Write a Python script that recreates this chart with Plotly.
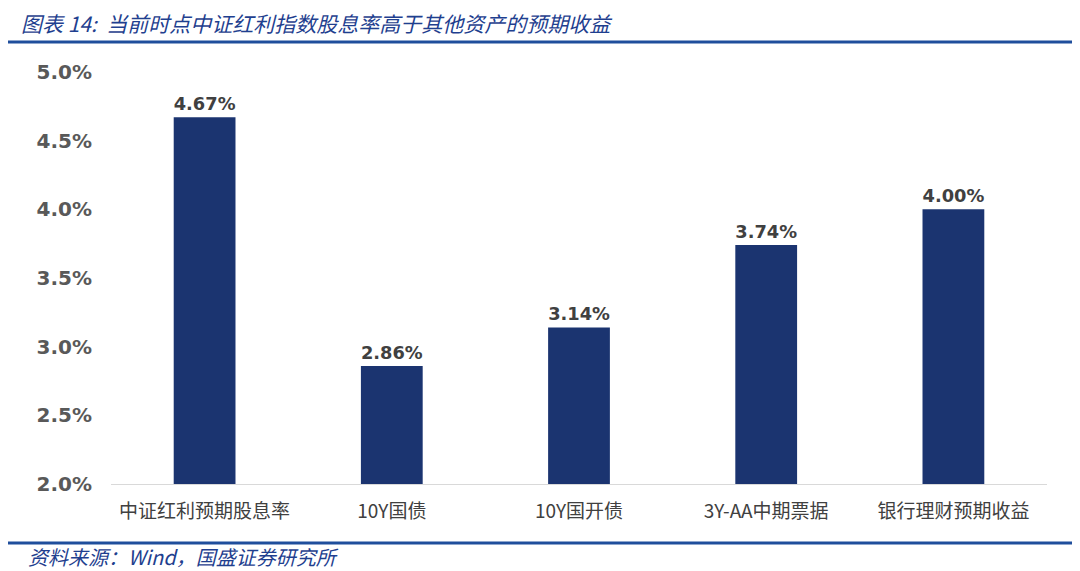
import plotly.graph_objects as go

categories = ['中证红利预期股息率', '10Y国债', '10Y国开债', '3Y-AA中期票据', '银行理财预期收益']
values = [4.67, 2.86, 3.14, 3.74, 4.00]
tick_vals = [2.0, 2.5, 3.0, 3.5, 4.0, 4.5, 5.0]
tick_text = ['2.0%', '2.5%', '3.0%', '3.5%', '4.0%', '4.5%', '5.0%']

# page has an 8px body margin, so figure coords = screen coords - 8
W, H = 1080, 571
L, R, T, B = 103, 41, 64, 95
PW, PH = W - L - R, H - T - B


def px(x):
    return (x - L) / PW


def py(y):
    return 1 - (y - T) / PH


fig = go.Figure()
fig.add_trace(go.Bar(
    x=categories,
    y=values,
    base=0,
    marker=dict(color='#1B3470', line=dict(width=0)),
    text=[f'{v:.2f}%' for v in values],
    textposition='outside',
    textfont=dict(family='DejaVu Sans', size=18, color='#404040', weight='bold'),
    cliponaxis=False,
))

title_blue = '#1F3F8F'
line_blue = '#1F4E9C'

fig.update_layout(
    width=W, height=H,
    margin=dict(l=L, r=R, t=T, b=B),
    plot_bgcolor='white',
    paper_bgcolor='white',
    showlegend=False,
    bargap=0.67,
    xaxis=dict(
        showgrid=False,
        showline=True, linecolor='#D9D9D9', linewidth=1,
        ticks='',
        tickfont=dict(family='Noto Sans CJK SC', size=19, color='#404040'),
        ticklabelstandoff=10,
    ),
    yaxis=dict(
        range=[2, 5],
        tickvals=tick_vals,
        ticktext=tick_text,
        showgrid=False,
        zeroline=False,
        showline=False,
        ticks='',
        tickfont=dict(family='DejaVu Sans', size=20, color='#595959', weight='bold'),
        ticklabelstandoff=18,
    ),
    annotations=[
        dict(text='图表 14:  当前时点中证红利指数股息率高于其他资产的预期收益',
             xref='paper', yref='paper', x=px(12), y=py(15),
             xanchor='left', yanchor='middle', showarrow=False, borderpad=0,
             font=dict(family='Noto Sans CJK SC', size=21, color=title_blue, style='italic')),
        dict(text='资料来源：Wind，国盛证券研究所',
             xref='paper', yref='paper', x=px(18), y=py(548),
             xanchor='left', yanchor='middle', showarrow=False,
             font=dict(family='Noto Sans CJK SC', size=20, color=title_blue, style='italic')),
    ],
    shapes=[
        dict(type='line', xref='paper', yref='paper',
             x0=px(0), x1=px(1067), y0=py(34), y1=py(34),
             line=dict(color=line_blue, width=3)),
        dict(type='line', xref='paper', yref='paper',
             x0=px(0), x1=px(1067), y0=py(535), y1=py(535),
             line=dict(color=line_blue, width=3)),
    ],
)

fig.write_html('out.html')
